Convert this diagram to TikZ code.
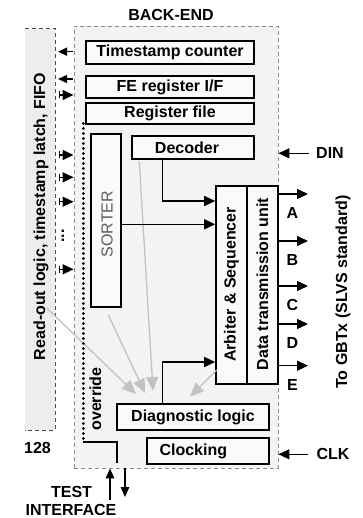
\documentclass[tikz,border=0pt]{standalone}
\usepackage{fontspec}
\setmainfont{Liberation Sans}
\usetikzlibrary{arrows.meta}
\definecolor{panelbg}{HTML}{EDEDED}
\definecolor{mainbg}{HTML}{F3F3F3}
\definecolor{boxbg}{HTML}{FAFAFA}
\definecolor{frame}{HTML}{8A8A8A}
\definecolor{panelframe}{HTML}{4A4A4A}
\definecolor{hint}{HTML}{C2C2C2}
\definecolor{sortertxt}{HTML}{5C5C5C}
\begin{document}
\begin{tikzpicture}[x=1pt,y=-1pt,
  txt/.style={font=\bfseries\fontsize{16}{18}\selectfont, inner sep=0pt},
  box/.style={draw=black, line width=1.6pt, fill=boxbg, inner sep=0pt, txt},
  vtxt/.style={txt, rotate=90},
  blk/.style={line width=1.4pt, -{Triangle[length=11pt,width=10pt]}},
  blkin/.style={line width=1.4pt, {Bar[width=7pt]}-{Triangle[length=11pt,width=10pt]}},
  blkout/.style={line width=1.4pt, -{Triangle[length=9pt,width=8pt]}},
  tst/.style={line width=1.5pt, -{Triangle[length=10pt,width=8.5pt]}},
  gry/.style={draw=hint, line width=1.3pt, -{Triangle[length=14pt,width=12pt]}},
  dashframe/.style={line width=0.9pt, dash pattern=on 4pt off 3pt},
]
\useasboundingbox (0,0) rectangle (363,518);

% back-end area and read-out panel
\node[draw=frame, dashframe, fill=mainbg, minimum width=204, minimum height=442, inner sep=0pt] (be) at (176,247) {};
\node[fill=panelbg, minimum width=30, minimum height=401, inner sep=0pt] (ro) at (40,229.5) {};
\draw[draw=panelframe, dashframe] (ro.north west) -- (ro.north east) -- (ro.south east) -- (ro.south west);
\node[vtxt] (rotxt) at (41,216.5) {Read-out logic, timestamp latch, FIFO};
\node[txt] (title) at (171,14.7) {BACK-END};
\node[txt] (n128) at (37.5,447.5) {128};

% blocks
\node[box, minimum width=168, minimum height=23] (ts) at (170,52.5) {Timestamp counter};
\node[box, minimum width=168, minimum height=22] (fe) at (170,87) {FE register I/F};
\node[box, minimum width=168, minimum height=21] (rf) at (170,113.5) {Register file};
\node[box, minimum width=122, minimum height=23] (dec) at (193,147.5) {};
\node[txt] (dectxt) at (187,147.5) {Decoder};
\node[box, minimum width=30, minimum height=173] (sort) at (106,220.5) {};
\node[vtxt, font=\mdseries\fontsize{16}{18}\selectfont, text=sortertxt] (sorttxt) at (107,224) {SORTER};
\node[box, minimum width=31, minimum height=198] (arb) at (231.5,285) {};
\node[vtxt] (arbtxt) at (231.5,284.5) {Arbiter \& Sequencer};
\node[box, minimum width=31, minimum height=198] (dtu) at (262.5,285) {};
\node[vtxt] (dtutxt) at (262.5,284) {Data transmission unit};
\node[box, minimum width=152, minimum height=26] (diag) at (193,417) {Diagnostic logic};
\node[box, minimum width=122, minimum height=26] (clk) at (208,451) {};
\node[txt] (clktxt) at (193.3,451) {Clocking};

% hint arrows towards the diagnostic logic
\coordinate (g1s) at (46.7,308);  \coordinate (g1e) at (136,394);
\coordinate (g2s) at (108.3,315); \coordinate (g2e) at (145,393);
\coordinate (g3s) at (139.3,161.7); \coordinate (g3e) at (153,391);
\coordinate (g4s) at (216.7,370); \coordinate (g4e) at (190,396.7);
\draw[gry] (g1s) -- (g1e);
\draw[gry] (g2s) -- (g2e);
\draw[gry] (g3s) -- (g3e);
\draw[gry] (g4s) -- (g4e);

% internal data paths
\draw[blk] (dec.south -| 162.3,0) -- (162.3,201) -- (arb.west |- 0,201);
\draw[blk] (sort.east |- 0,224.3) -- (arb.west |- 0,224.3);
\draw[blk] (diag.north -| 162.3,0) -- (162.3,362) -- (arb.west |- 0,362);

% read-out panel links
\foreach \yy/\nm in {51.7/la, 79/lb} {
  \coordinate (\nm) at (58,\yy);
  \draw[blkout] (be.west |- \nm) ++(-1,0) -- (\nm);
}
\foreach \yy/\nm in {95/ra, 155/rb, 177.3/rc, 201.7/rd, 269.3/re} {
  \coordinate (\nm) at (58.5,\yy);
  \draw[blkin] (\nm) -- (be.west |- \nm);
}
\node[txt, rotate=90] (dots) at (63,236) {...};

% override path to the test interface
\coordinate (ov1) at (83.3,123.5);
\coordinate (ov2) at (83.3,440);
\coordinate (ov3) at (116.7,441.7);
\coordinate (ov4) at (116.7,463);
\draw[line width=3pt, line cap=round, dash pattern=on 0pt off 5pt] (ov1) -- (ov2);
\draw[line width=1.6pt] (ov1 |- ov3) -- (ov3) -- (ov4);
\node[vtxt] (ovtxt) at (95.5,399) {override};

\coordinate (tin) at (110,500);
\coordinate (tout) at (125,497);
\draw[tst] (tin) -- (tin |- be.south);
\draw[tst] (tout |- be.south) -- (tout);
\node[txt] (test1) at (71.5,492) {TEST};
\node[txt] (test2) at (71,509.5) {INTERFACE};

% outputs
\foreach \yy/\nm/\lab in {194/oa/A, 241/ob/B, 286/oc/C, 324/od/D, 365.7/oe/E} {
  \coordinate (\nm) at (308,\yy);
  \draw[blk] (dtu.east |- \nm) -- (\nm);
  \node[txt] (l\nm) at (292.5,\yy+19) {\lab};
}
\node[vtxt] (gbtx) at (343,292) {To GBTx (SLVS standard)};

% clock and data inputs
\coordinate (din) at (309,153.3);
\draw[blk] (din) -- (be.east |- din);
\node[txt] (dintxt) at (330,153.3) {DIN};
\coordinate (clkin) at (308,454.3);
\draw[blk] (clkin) -- (be.east |- clkin);
\node[txt] (clkintxt) at (333,454.3) {CLK};
\end{tikzpicture}
\end{document}
